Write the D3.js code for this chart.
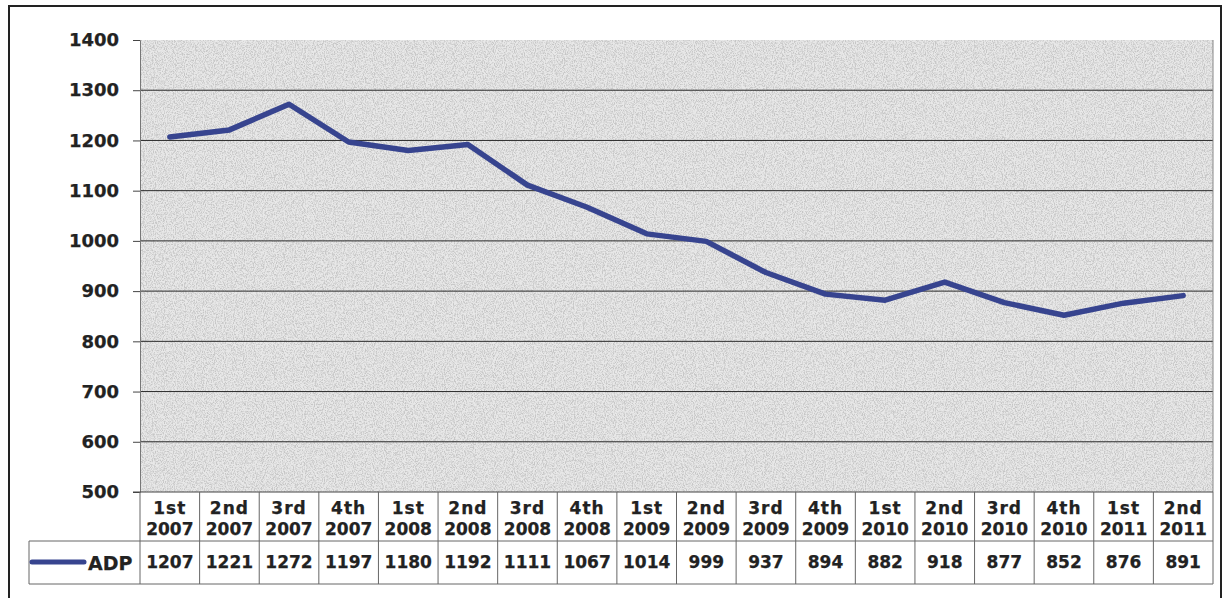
<!DOCTYPE html>
<html>
<head>
<meta charset="utf-8">
<script src="https://cdn.jsdelivr.net/npm/d3@7"></script>
<style>
  html, body { margin: 0; padding: 0; background: #fff; }
  svg { display: block; }
  text { font-family: "DejaVu Sans", sans-serif; font-weight: bold; fill: #222; stroke: #222; stroke-width: 0.25px; }
</style>
</head>
<body>
<div class="chart"></div>
<script>
const quarters = ['1st','2nd','3rd','4th','1st','2nd','3rd','4th','1st','2nd','3rd','4th','1st','2nd','3rd','4th','1st','2nd'];
const years = ['2007','2007','2007','2007','2008','2008','2008','2008','2009','2009','2009','2009','2010','2010','2010','2010','2011','2011'];
const adp = [1207, 1221, 1272, 1197, 1180, 1192, 1111, 1067, 1014, 999, 937, 894, 882, 918, 877, 852, 876, 891];
const yTicks = [500, 600, 700, 800, 900, 1000, 1100, 1200, 1300, 1400];
const seriesName = 'ADP';

const width = 1223;
const height = 598;
const plot = { left: 140, top: 40, right: 1213, bottom: 492 };
const tableMid = 541;
const tableBottom = 584;
const legendLeft = 29;
const lineColor = '#37448f';

const svg = d3
  .select('.chart')
  .append('svg')
  .attr('width', width)
  .attr('height', height);

// speckled grey background like the scanned original
const defs = svg.append('defs');
const noise = defs.append('filter')
  .attr('id', 'noise')
  .attr('x', 0).attr('y', 0).attr('width', 1).attr('height', 1);
noise.append('feTurbulence')
  .attr('type', 'fractalNoise')
  .attr('baseFrequency', '1.1 0.7')
  .attr('numOctaves', 2)
  .attr('seed', 3)
  .attr('result', 't');
noise.append('feColorMatrix')
  .attr('in', 't')
  .attr('type', 'matrix')
  .attr('values', '0 0 0 0 0.3  0 0 0 0 0.3  0 0 0 0 0.3  3.2 0 0 0 -1.3')
  .attr('result', 'dots');
noise.append('feComposite')
  .attr('in', 'dots')
  .attr('in2', 'SourceGraphic')
  .attr('operator', 'in');

// outer frame
svg.append('rect')
  .attr('x', 9).attr('y', 6)
  .attr('width', 1212).attr('height', 620)
  .attr('fill', 'none')
  .attr('stroke', '#222')
  .attr('stroke-width', 2);

const keys = d3.range(adp.length);
const x = d3.scaleBand().domain(keys).range([plot.left, plot.right]).padding(0);
const y = d3.scaleLinear().domain([500, 1400]).range([plot.bottom, plot.top]);

const g = svg.append('g');

g.append('rect')
  .attr('x', plot.left).attr('y', plot.top)
  .attr('width', plot.right - plot.left).attr('height', plot.bottom - plot.top)
  .attr('fill', '#e8e8e8');
g.append('rect')
  .attr('x', plot.left).attr('y', plot.top)
  .attr('width', plot.right - plot.left).attr('height', plot.bottom - plot.top)
  .attr('fill', '#fff')
  .attr('filter', 'url(#noise)')
  .attr('opacity', 0.4);

// gridlines
g.selectAll('line.grid')
  .data(yTicks.filter(d => d > 500 && d < 1400))
  .enter().append('line')
  .attr('class', 'grid')
  .attr('x1', plot.left).attr('x2', plot.right)
  .attr('y1', d => y(d)).attr('y2', d => y(d))
  .attr('stroke', '#2a2a2a')
  .attr('stroke-width', 1);

// right edge of plot
g.append('line')
  .attr('x1', plot.right).attr('x2', plot.right)
  .attr('y1', plot.top).attr('y2', plot.bottom)
  .attr('stroke', '#888');

// y axis
const yAxis = g.append('g')
  .attr('transform', `translate(${plot.left},0)`)
  .call(d3.axisLeft(y).tickValues(yTicks).tickSize(7).tickPadding(14).tickFormat(d3.format('d')));
yAxis.select('.domain').attr('stroke', '#777');
yAxis.selectAll('.tick line').attr('stroke', '#444');
yAxis.selectAll('.tick text')
  .style('font-family', '"DejaVu Sans", sans-serif')
  .style('font-weight', 'bold')
  .style('font-size', '18px')
  .attr('fill', '#222');

// data table
const tbl = svg.append('g');
const gridColor = '#666';

tbl.append('line')
  .attr('x1', plot.left - 7).attr('x2', plot.right)
  .attr('y1', plot.bottom).attr('y2', plot.bottom)
  .attr('stroke', '#444');
tbl.append('line')
  .attr('x1', legendLeft).attr('x2', plot.right)
  .attr('y1', tableMid).attr('y2', tableMid)
  .attr('stroke', gridColor);
tbl.append('line')
  .attr('x1', legendLeft).attr('x2', plot.right)
  .attr('y1', tableBottom).attr('y2', tableBottom)
  .attr('stroke', gridColor);
tbl.append('line')
  .attr('x1', legendLeft).attr('x2', legendLeft)
  .attr('y1', tableMid).attr('y2', tableBottom)
  .attr('stroke', gridColor);

const colEdges = keys.map(d => x(d)).concat([plot.right]);
tbl.selectAll('line.col')
  .data(colEdges)
  .enter().append('line')
  .attr('class', 'col')
  .attr('x1', d => d).attr('x2', d => d)
  .attr('y1', plot.bottom).attr('y2', tableBottom)
  .attr('stroke', gridColor);

const cx = d => x(d) + x.bandwidth() / 2;

tbl.selectAll('text.q')
  .data(keys)
  .enter().append('text')
  .attr('class', 'q')
  .attr('x', cx).attr('y', 514)
  .attr('text-anchor', 'middle')
  .attr('font-size', 17)
  .attr('letter-spacing', 1)
  .text(d => quarters[d]);

tbl.selectAll('text.yr')
  .data(keys)
  .enter().append('text')
  .attr('class', 'yr')
  .attr('x', cx).attr('y', 535)
  .attr('text-anchor', 'middle')
  .attr('font-size', 17)
  .text(d => years[d]);

tbl.selectAll('text.val')
  .data(keys)
  .enter().append('text')
  .attr('class', 'val')
  .attr('x', cx).attr('y', 568)
  .attr('text-anchor', 'middle')
  .attr('font-size', 17)
  .text(d => adp[d]);

// legend key
tbl.append('line')
  .attr('x1', 32).attr('x2', 84)
  .attr('y1', 562).attr('y2', 562)
  .attr('stroke', lineColor)
  .attr('stroke-width', 5)
  .attr('stroke-linecap', 'round');
tbl.append('text')
  .attr('x', 88).attr('y', 570)
  .attr('font-size', 19)
  .text(seriesName);

// series line
const line = d3.line()
  .x(d => cx(d))
  .y(d => y(adp[d]));

g.append('path')
  .datum(keys)
  .attr('d', line)
  .attr('fill', 'none')
  .attr('stroke', lineColor)
  .attr('stroke-width', 5.5)
  .attr('stroke-linejoin', 'round')
  .attr('stroke-linecap', 'round');
</script>
</body>
</html>
